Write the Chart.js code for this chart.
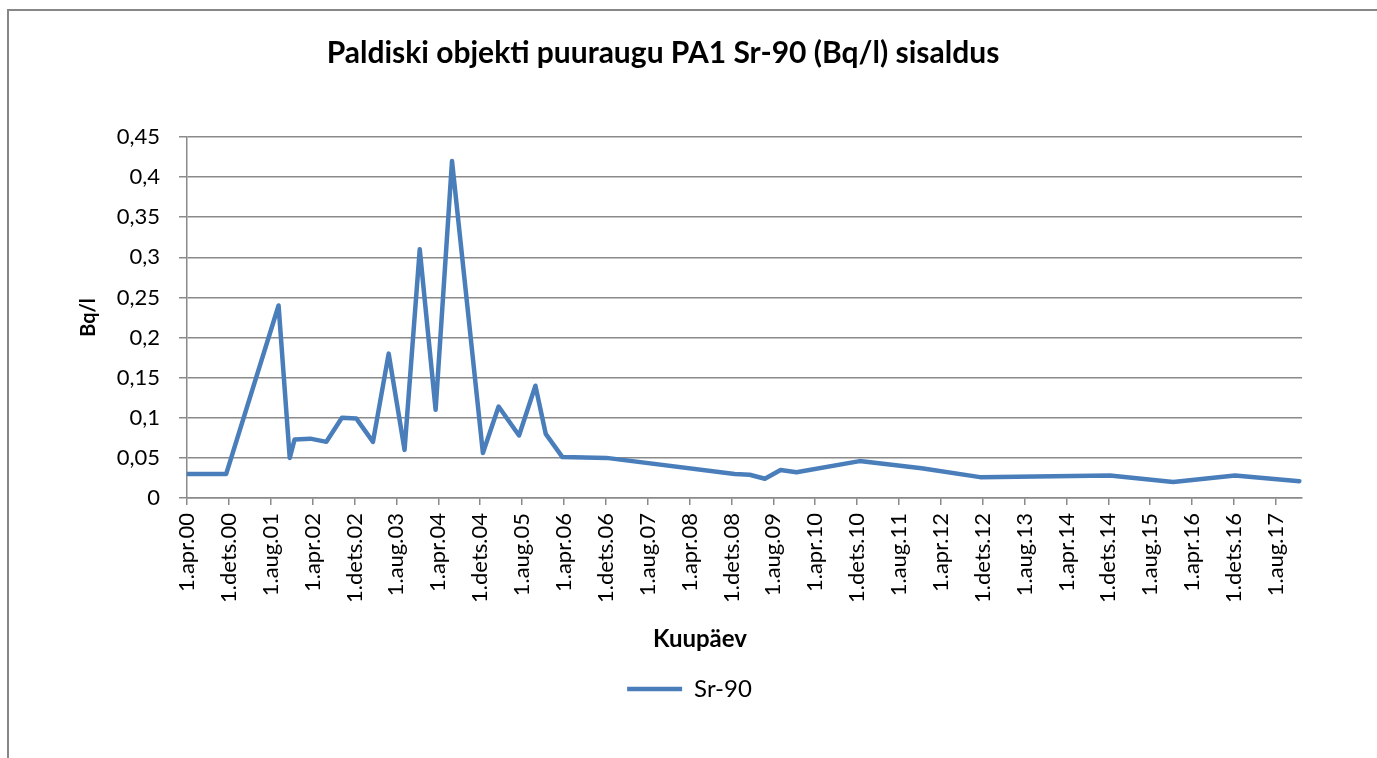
<!DOCTYPE html>
<html>
<head>
<meta charset="utf-8">
<script src="https://cdn.jsdelivr.net/npm/chart.js@4.4.0/dist/chart.umd.min.js"></script>
<style>
    html, body { margin: 0; padding: 0; background: #fff; }
    #wrap { position: relative; width: 1377px; height: 758px; overflow: hidden; }
    #frame { position: absolute; left: 7px; top: 9px; width: 1450px; height: 800px;
             border-top: 2px solid #878787; border-left: 2px solid #878787; }
    #sr90-plot { position: absolute; left: 0; top: 0; }
</style>
</head>
<body>
<div id="wrap">
    <div id="frame"></div>
    <canvas id="sr90-plot" width="1377" height="758"></canvas>
</div>
<script>
const chartTitle = 'Paldiski objekti puuraugu PA1 Sr-90 (Bq/l) sisaldus';
const xAxisTitle = 'Kuupäev';
const yAxisTitle = 'Bq/l';
const seriesName = 'Sr-90';

// sampling dates
const sampleDates = [
    '2000-04-06', '2000-11-16', '2001-09-16', '2001-11-20', '2001-12-18',
    '2002-03-18', '2002-06-20', '2002-09-19', '2002-12-12', '2003-03-17',
    '2003-06-17', '2003-09-18', '2003-12-15', '2004-03-16', '2004-06-20',
    '2004-12-17', '2005-03-17', '2005-07-14', '2005-10-18', '2005-12-17',
    '2006-03-23', '2006-12-05', '2008-12-20', '2009-03-16', '2009-06-13',
    '2009-09-13', '2009-12-14', '2010-12-16', '2011-12-11', '2012-11-16',
    '2014-12-10', '2015-12-13', '2016-12-07', '2017-12-16'
];

// Sr-90, Bq/l
const sr90Values = [
    0.030, 0.030, 0.240, 0.050, 0.073,
    0.074, 0.070, 0.100, 0.099, 0.070,
    0.180, 0.060, 0.310, 0.110, 0.420,
    0.056, 0.114, 0.078, 0.140, 0.080,
    0.051, 0.050, 0.030, 0.029, 0.024,
    0.035, 0.032, 0.046, 0.037, 0.026,
    0.028, 0.020, 0.028, 0.021
];

// x tick labels, one every 8 months from 1.apr.00
const tickLabels = [
    '1.apr.00', '1.dets.00', '1.aug.01', '1.apr.02', '1.dets.02', '1.aug.03',
    '1.apr.04', '1.dets.04', '1.aug.05', '1.apr.06', '1.dets.06', '1.aug.07',
    '1.apr.08', '1.dets.08', '1.aug.09', '1.apr.10', '1.dets.10', '1.aug.11',
    '1.apr.12', '1.dets.12', '1.aug.13', '1.apr.14', '1.dets.14', '1.aug.15',
    '1.apr.16', '1.dets.16', '1.aug.17'
];
const tickStepMonths = 8;

// months since 1.apr.2000
function monthsFromStart(dateStr) {
    const [y, m, d] = dateStr.split('-').map(Number);
    return (y - 2000) * 12 + (m - 4) + (d - 1) / 30.44;
}

const gridColor = '#8a8a8a';
const lineColor = '#4a7ebb';
const fontFamily = 'Lato, "Open Sans", sans-serif';

// title and x-axis title drawn at the spots the original uses
const textPlugin = {
    id: 'chartTexts',
    afterDraw(chart) {
        const ctx = chart.ctx;
        ctx.save();
        ctx.fillStyle = '#000';
        ctx.textAlign = 'center';
        ctx.textBaseline = 'middle';
        ctx.font = 'bold 30px ' + fontFamily;
        ctx.fillText(chartTitle, 663, 53);
        ctx.font = 'bold 24px ' + fontFamily;
        ctx.fillText(xAxisTitle, 700, 639);
        ctx.restore();
    }
};

const ctx = document.getElementById('sr90-plot').getContext('2d');

const chart = new Chart(ctx, {
    type: 'line',
    data: {
        datasets: [{
            label: seriesName,
            data: sampleDates.map((d, i) => ({ x: monthsFromStart(d), y: sr90Values[i] })),
            borderColor: lineColor,
            backgroundColor: lineColor,
            borderWidth: 4.5,
            borderJoinStyle: 'round',
            borderCapStyle: 'round',
            pointRadius: 0,
            tension: 0,
            fill: false
        }]
    },
    options: {
        responsive: false,
        animation: false,
        devicePixelRatio: 1,
        layout: {
            padding: { left: 77, right: 75, top: 137, bottom: 47 }
        },
        plugins: {
            title: { display: false },
            tooltip: { enabled: false },
            legend: {
                display: true,
                position: 'bottom',
                labels: {
                    usePointStyle: true,
                    pointStyle: 'line',
                    pointStyleWidth: 55,
                    color: '#000',
                    padding: 10,
                    font: { family: fontFamily, size: 24 }
                }
            }
        },
        scales: {
            x: {
                type: 'linear',
                min: 0,
                max: 213,
                afterFit: (scale) => { scale.height = 169; },
                afterBuildTicks: (scale) => {
                    scale.ticks = tickLabels.map((_, i) => ({ value: i * tickStepMonths }));
                },
                grid: {
                    drawOnChartArea: false,
                    drawTicks: true,
                    tickLength: 7,
                    color: gridColor,
                    lineWidth: 1.5
                },
                border: { display: true, color: gridColor, width: 1.5 },
                ticks: {
                    autoSkip: false,
                    minRotation: 90,
                    maxRotation: 90,
                    padding: 8,
                    color: '#000',
                    font: { family: fontFamily, size: 22 },
                    callback: (value, index) => tickLabels[index]
                },
                title: { display: false }
            },
            y: {
                min: 0,
                max: 0.45,
                afterFit: (scale) => { scale.width = 110; },
                grid: {
                    drawTicks: true,
                    tickLength: 8,
                    color: gridColor,
                    lineWidth: 1.5
                },
                border: { display: true, color: gridColor, width: 1.5 },
                ticks: {
                    stepSize: 0.05,
                    padding: 19,
                    color: '#000',
                    font: { family: fontFamily, size: 22 },
                    callback: (value) => value === 0 ? '0' : String(+value.toFixed(2)).replace('.', ',')
                },
                title: {
                    display: true,
                    text: yAxisTitle,
                    color: '#000',
                    padding: { top: 0, bottom: 0 },
                    font: { family: fontFamily, size: 20, weight: 'bold' }
                }
            }
        }
    },
    plugins: [textPlugin]
});
</script>
</body>
</html>
